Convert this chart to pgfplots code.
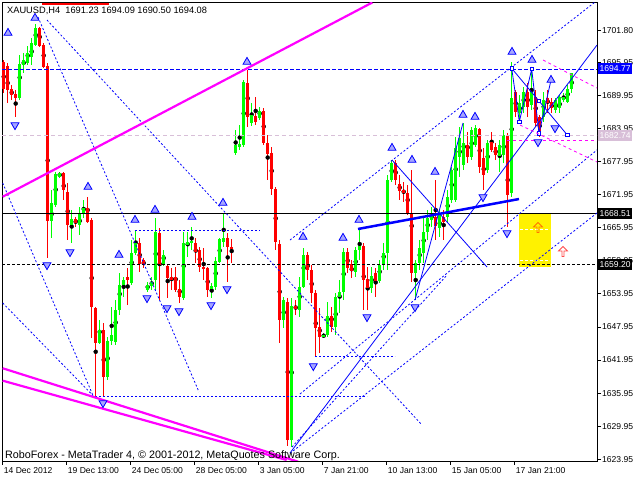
\documentclass[border=0pt]{standalone}
\usepackage{pgfplots}
\pgfplotsset{compat=1.18}
\usepackage{pgfplotstable}
\usepackage{fontspec}
\setmainfont{Liberation Sans}
\usetikzlibrary{shapes.arrows}
\definecolor{upc}{RGB}{0,255,0}
\definecolor{dnc}{RGB}{255,0,0}
\definecolor{mtblue}{RGB}{0,0,255}
\definecolor{thist}{RGB}{216,191,216}
\definecolor{mag}{RGB}{255,0,255}
\newcommand\mtf{\fontsize{8.6}{10}\selectfont}

\pgfplotstableread{
i o h l c
5 1689.50 1697.31 1689.14 1695.68
6 1695.49 1697.73 1694.04 1696.40
7 1695.80 1698.94 1695.49 1697.73
8 1697.00 1700.39 1695.49 1699.49
9 1699.12 1702.93 1698.94 1702.21
13 1667.24 1672.81 1664.10 1670.50
14 1670.08 1676.07 1669.72 1675.71
15 1675.22 1676.13 1674.98 1675.84
18 1666.45 1669.18 1663.19 1667.54
20 1666.45 1669.78 1664.64 1668.69
21 1668.63 1670.99 1667.73 1669.54
25 1645.04 1649.21 1644.90 1647.40
27 1638.92 1646.18 1638.32 1645.40
28 1645.40 1651.62 1644.68 1646.49
29 1645.27 1652.84 1644.68 1651.03
30 1651.03 1657.74 1650.12 1655.56
31 1655.56 1657.07 1653.44 1656.47
33 1655.93 1663.73 1655.56 1661.37
34 1661.37 1665.55 1661.01 1663.19
37 1654.66 1656.11 1654.29 1655.56
38 1655.38 1657.07 1654.66 1656.16
39 1656.47 1667.73 1654.66 1665.24
41 1659.20 1661.92 1659.01 1661.01
46 1653.21 1665.24 1652.84 1663.19
47 1662.82 1665.24 1660.70 1663.43
48 1663.13 1666.15 1661.92 1663.55
53 1654.84 1655.93 1653.21 1655.38
54 1655.20 1660.70 1654.66 1659.98
55 1659.79 1664.10 1659.56 1663.91
56 1663.43 1668.63 1662.52 1664.10
59 1679.47 1683.70 1679.16 1680.97
60 1680.61 1684.60 1680.07 1681.16
61 1680.97 1692.77 1680.67 1692.46
63 1685.02 1688.60 1684.42 1686.42
65 1685.82 1687.93 1685.51 1687.20
71 1649.21 1653.44 1647.76 1652.84
73 1627.43 1653.21 1626.16 1651.75
75 1651.03 1657.07 1649.81 1655.26
76 1655.26 1662.28 1655.02 1661.01
81 1646.07 1646.85 1645.89 1646.49
82 1646.49 1652.53 1646.18 1649.94
84 1647.99 1654.06 1646.49 1653.44
85 1653.44 1656.47 1650.48 1654.35
86 1654.35 1662.28 1652.84 1661.61
89 1657.98 1662.52 1657.07 1661.92
90 1661.92 1665.91 1660.10 1662.64
93 1654.97 1658.89 1654.06 1657.20
95 1656.35 1660.10 1655.87 1659.20
96 1659.20 1663.13 1658.29 1661.37
97 1661.37 1675.53 1658.29 1674.62
98 1674.62 1678.25 1674.31 1677.65
104 1657.69 1660.10 1652.84 1659.56
105 1659.56 1663.73 1658.29 1662.28
106 1661.32 1667.73 1659.56 1665.24
107 1665.24 1669.18 1663.73 1667.73
108 1667.36 1669.78 1666.15 1668.27
110 1665.91 1669.18 1664.33 1668.27
112 1667.96 1672.81 1667.05 1671.59
113 1670.99 1677.04 1670.45 1676.44
114 1670.99 1682.48 1670.68 1680.38
115 1678.85 1684.30 1675.22 1682.19
116 1677.34 1684.97 1676.44 1681.28
118 1678.85 1684.30 1678.25 1683.70
119 1680.97 1684.60 1680.67 1684.00
122 1676.44 1681.88 1675.84 1681.28
125 1678.98 1681.88 1676.13 1680.97
126 1679.16 1683.70 1677.65 1682.79
128 1672.21 1696.09 1671.59 1689.45
130 1686.73 1690.05 1685.20 1688.54
131 1687.93 1691.55 1686.73 1690.65
133 1688.23 1694.59 1687.33 1690.65
136 1686.11 1690.65 1685.20 1689.14
139 1687.33 1689.45 1686.73 1689.14
140 1687.63 1690.05 1686.73 1689.74
141 1689.14 1690.36 1688.83 1689.74
142 1688.83 1691.86 1688.54 1691.23
143 1691.23 1694.09 1690.50 1694.08
}\candUp

\pgfplotstableread{
i o h l c
1 1696.09 1696.40 1690.36 1691.08
2 1695.31 1695.86 1688.60 1690.96
3 1691.14 1691.86 1689.14 1690.05
4 1690.23 1690.96 1686.06 1689.56
10 1702.21 1702.45 1698.76 1698.94
11 1699.12 1699.49 1694.95 1695.18
12 1695.31 1695.86 1660.47 1667.24
16 1675.84 1676.13 1670.99 1672.81
17 1672.50 1674.13 1663.73 1666.45
19 1667.54 1667.96 1666.15 1666.82
22 1669.54 1671.54 1666.82 1667.05
23 1667.36 1667.73 1645.94 1651.57
24 1651.39 1651.62 1635.29 1645.04
26 1647.40 1648.67 1635.29 1638.92
32 1657.07 1658.65 1651.94 1656.47
35 1663.19 1664.10 1657.92 1659.38
36 1660.10 1660.47 1658.65 1659.20
40 1665.06 1665.91 1652.84 1659.20
42 1659.01 1659.38 1653.21 1656.84
43 1657.07 1658.65 1654.66 1656.47
44 1657.02 1658.89 1654.35 1654.66
45 1654.84 1656.47 1652.30 1653.44
49 1663.24 1664.10 1659.56 1661.61
50 1661.92 1662.52 1657.98 1658.89
51 1658.89 1662.28 1656.47 1658.47
52 1658.65 1658.89 1653.44 1654.66
57 1664.10 1665.00 1656.16 1662.46
58 1662.52 1663.91 1659.56 1662.15
62 1692.17 1694.59 1684.30 1686.11
64 1686.24 1689.74 1684.60 1685.20
66 1687.20 1687.69 1680.97 1681.28
67 1681.28 1682.79 1674.62 1679.34
68 1679.47 1680.67 1671.90 1672.93
69 1672.93 1673.41 1661.92 1663.43
70 1663.01 1663.73 1644.98 1649.21
72 1652.53 1653.21 1626.35 1627.43
74 1651.75 1652.84 1650.12 1651.16
77 1661.01 1661.61 1656.47 1658.29
78 1658.29 1659.20 1652.30 1654.06
79 1654.06 1654.66 1642.55 1647.71
80 1647.94 1651.39 1643.22 1646.13
83 1649.94 1651.62 1647.09 1647.99
87 1661.61 1662.28 1657.69 1658.60
88 1659.38 1660.10 1656.78 1658.16
91 1662.64 1663.19 1651.03 1656.47
92 1656.65 1658.89 1651.03 1654.97
94 1657.74 1658.65 1653.44 1656.35
99 1677.65 1678.25 1673.71 1674.62
100 1673.89 1675.53 1670.99 1672.68
101 1672.81 1674.31 1670.68 1672.21
102 1672.32 1673.71 1668.27 1668.58
103 1668.58 1676.44 1656.16 1657.69
109 1667.96 1674.62 1663.73 1666.27
111 1667.96 1669.18 1663.73 1667.05
117 1680.97 1683.39 1677.71 1678.85
120 1683.82 1684.06 1675.89 1677.04
121 1678.56 1680.43 1672.81 1675.53
123 1681.57 1683.39 1679.76 1680.07
124 1680.56 1681.28 1678.25 1679.16
127 1682.79 1683.10 1666.15 1671.90
129 1690.65 1690.96 1686.11 1687.02
132 1690.65 1692.17 1686.11 1687.93
134 1689.74 1690.96 1684.30 1684.91
135 1686.11 1686.42 1682.48 1683.39
137 1689.45 1690.96 1686.73 1688.54
138 1688.83 1689.45 1686.73 1687.63
}\candDn

\begin{document}
\begin{tikzpicture}
\useasboundingbox (0,0) rectangle (640bp,480bp);
\begin{axis}[
  at={(2bp,19bp)}, anchor=south west,
  scale only axis, width=595bp, height=458.5bp,
  xmin=0.575, xmax=149.325, ymin=1623.62, ymax=1706.84,
  axis line style={black, line width=0.9bp},
  xtick={0.75,16.75,32.75,48.75,64.75,80.75,96.75,112.75,128.75},
  xticklabels={14 Dec 2012,19 Dec 13:00,24 Dec 05:00,28 Dec 05:00,3 Jan 05:00,7 Jan 21:00,10 Jan 13:00,15 Jan 05:00,17 Jan 21:00},
  ytick={1623.95,1629.95,1635.95,1641.95,1647.95,1653.95,1659.95,1665.95,1671.95,1677.95,1683.95,1689.95,1695.95,1701.80},
  yticklabels={1623.95,1629.95,1635.95,1641.95,1647.95,1653.95,1659.95,1665.95,1671.95,1677.95,1683.95,1689.95,1695.95,1701.80},
  xtick pos=left, ytick pos=right, yticklabel pos=right,
  tick align=outside, major tick length=4bp,
  tick style={black, line width=0.9bp},
  xticklabel style={anchor=north west, font=\mtf, inner sep=0pt, xshift=1bp, yshift=-2bp},
  yticklabel style={anchor=west, font=\mtf, inner sep=0pt, xshift=1bp},
  clip mode=individual,
]
% yellow zone
\addplot[draw=none, fill=yellow] coordinates {(129.825,1668.45) (137.825,1668.45) (137.825,1658.83) (129.825,1658.83)} -- cycle;
\addplot[white, dash pattern=on 3bp off 2bp, line width=0.8bp] coordinates {(130.075,1665.73) (137.575,1665.73)};
\addplot[white, dash pattern=on 3bp off 2bp, line width=0.8bp] coordinates {(130.075,1659.98) (137.575,1659.98)};

% candles: wicks then bodies
\addplot[only marks, mark=none, error bars/.cd, y dir=both, y explicit, error mark=none,
  error bar style={line width=1bp, draw=upc}]
  table[x=i, y expr={(\thisrow{h}+\thisrow{l})/2}, y error expr={(\thisrow{h}-\thisrow{l})/2}] {\candUp};
\addplot[only marks, mark=-, mark size=1.5bp, mark options={draw=upc, line width=1bp},
  error bars/.cd, y dir=both, y explicit, error mark=none,
  error bar style={line width=3bp, draw=upc}]
  table[x=i, y expr={(\thisrow{o}+\thisrow{c})/2}, y error expr={(\thisrow{c}-\thisrow{o})/2}] {\candUp};
\addplot[only marks, mark=none, error bars/.cd, y dir=both, y explicit, error mark=none,
  error bar style={line width=1bp, draw=dnc}]
  table[x=i, y expr={(\thisrow{h}+\thisrow{l})/2}, y error expr={(\thisrow{h}-\thisrow{l})/2}] {\candDn};
\addplot[only marks, mark=-, mark size=1.5bp, mark options={draw=dnc, line width=1bp},
  error bars/.cd, y dir=both, y explicit, error mark=none,
  error bar style={line width=3bp, draw=dnc}]
  table[x=i, y expr={(\thisrow{o}+\thisrow{c})/2}, y error expr={(\thisrow{o}-\thisrow{c})/2}] {\candDn};

% horizontal levels
\addplot[mtblue, dash pattern=on 4bp off 2bp, line width=0.8bp] coordinates {(0.575,1694.77) (149.325,1694.77)};
\addplot[thist, dash pattern=on 4bp off 3bp, line width=0.8bp] coordinates {(0.575,1682.74) (149.325,1682.74)};
\addplot[black, line width=1bp] coordinates {(0.575,1668.51) (149.325,1668.51)};
\addplot[black, dash pattern=on 3bp off 2bp, line width=1bp] coordinates {(0.575,1659.20) (149.325,1659.20)};

% blue dotted analysis lines
\pgfplotsset{bd/.style={mtblue, dash pattern=on 2bp off 2bp, line width=0.8bp}}
\addplot[bd] coordinates {(9.575,1704.20) (49.825,1636.15)};
\addplot[bd] coordinates {(11.825,1703.66) (105.575,1630.16)};
\addplot[bd] coordinates {(0.75,1674.08) (23.325,1635.5)};
\addplot[bd] coordinates {(0.75,1652.30) (23.325,1635.5)};
\addplot[bd] coordinates {(23.825,1635.42) (91.825,1635.42)};
\addplot[bd] coordinates {(33.825,1665.55) (65.075,1665.55)};
\addplot[bd] coordinates {(78.825,1642.68) (98.825,1642.68)};
\addplot[bd] coordinates {(72.575,1663.73) (149.325,1707.20)};
\addplot[bd] coordinates {(75.075,1635.78) (149.325,1680.07)};
\addplot[bd] coordinates {(72.575,1625.00) (149.325,1668.63)};
\addplot[bd] coordinates {(73.075,1626.16) (111.825,1657.38)};

% thin solid blue lines
\pgfplotsset{bs/.style={mtblue, line width=0.8bp}}
\addplot[bs] coordinates {(72.575,1625.07) (149.325,1699.12)};
\addplot[bs] coordinates {(103.825,1652.84) (115.825,1684.97)};
\addplot[bs] coordinates {(98.075,1678.25) (121.825,1658.83)};
\addplot[bs] coordinates {(128.0,1694.89) (129.9,1685.20) (133.0,1694.77) (134.83,1683.10) (137.83,1692.77)};
\addplot[bs] coordinates {(128.0,1694.89) (141.9,1682.79)};
\addplot[only marks, mark=square*, mark size=1.7bp, mark options={draw=mtblue, fill=white, line width=0.8bp}]
  coordinates {(128.0,1694.89) (129.9,1685.20) (133.0,1694.77) (134.83,1683.10) (137.83,1692.77) (134.83,1688.96) (141.9,1682.79)};

% thick blue line
\addplot[mtblue, line width=2.5bp] coordinates {(89.575,1665.73) (129.825,1671.17)};

% magenta lines
\addplot[mag, line width=2.2bp] coordinates {(0.75,1671.59) (93.15,1706.84)};
\addplot[mag, line width=2.2bp] coordinates {(0.75,1640.45) (74.58,1623.50)};
\addplot[mag, line width=2.2bp] coordinates {(0.75,1638.20) (71.75,1623.80)};
\addplot[mag, dash pattern=on 3bp off 3bp, line width=0.8bp] coordinates {(135.825,1696.40) (149.325,1691.32)};
\addplot[mag, dash pattern=on 3bp off 3bp, line width=0.8bp] coordinates {(130.075,1684.60) (149.325,1677.89)};
\addplot[mag, dash pattern=on 3bp off 3bp, line width=0.8bp] coordinates {(126.825,1681.88) (149.325,1681.88)};
\addplot[dnc, line width=2bp] coordinates {(10.575,1706.5) (27.325,1706.5)};

% fractals
\addplot[only marks, mark=triangle*, mark size=4.6bp, mark options={draw=mtblue, fill=mtblue!35, line width=0.8bp}]
  coordinates {(2.075,1701.30) (8.825,1704.02) (22.075,1673.35) (29.825,1661.01) (33.825,1667.36) (38.825,1669.18)
  (48.075,1667.91) (55.825,1670.45) (61.825,1696.04) (75.825,1664.28) (85.825,1664.10) (89.825,1667.36)
  (98.075,1680.43) (103.075,1678.25) (108.825,1676.07) (115.825,1686.42) (118.825,1686.06)
  (128.075,1697.85) (133.075,1696.40) (137.825,1692.77)};
\addplot[only marks, mark=triangle*, mark size=4.6bp, mark options={draw=mtblue, fill=mtblue!35, line width=0.8bp, rotate=180}]
  coordinates {(3.825,1684.60) (11.825,1659.20) (17.575,1661.55) (25.825,1634.15) (36.825,1653.21)
  (41.825,1651.39) (44.825,1650.85) (52.825,1651.94) (56.825,1654.84) (78.4,1640.87) (91.825,1649.76)
  (103.825,1651.57) (120.825,1671.54) (126.825,1665.00) (134.575,1681.52) (138.825,1684.06)};

% arrows in the zone
\node[single arrow, draw=orange!90!red, fill=none, shape border rotate=90, minimum height=10bp, minimum width=9bp, single arrow head extend=1.5bp, inner sep=0pt, line width=0.8bp] at (axis cs:134.575,1665.91) {};
\node[single arrow, draw=red!70, fill=white, shape border rotate=90, minimum height=10bp, minimum width=9bp, single arrow head extend=1.5bp, inner sep=0pt, line width=0.8bp] at (axis cs:140.825,1661.55) {};

% price tags
\node[anchor=west, fill=mtblue, text=white, font=\mtf, inner xsep=1.5bp, inner ysep=0pt, minimum height=11bp, xshift=1bp] at (axis cs:149.325,1694.77) {1694.77};
\node[anchor=west, fill=thist, text=white, font=\mtf, inner xsep=1.5bp, inner ysep=0pt, minimum height=11bp, xshift=1bp] at (axis cs:149.325,1682.74) {1682.74};
\node[anchor=west, fill=black, text=white, font=\mtf, inner xsep=1.5bp, inner ysep=0pt, minimum height=11bp, xshift=1bp] at (axis cs:149.325,1668.51) {1668.51};
\node[anchor=west, fill=black, text=white, font=\mtf, inner xsep=1.5bp, inner ysep=0pt, minimum height=11bp, xshift=1bp] at (axis cs:149.325,1659.20) {1659.20};
\end{axis}
\node[anchor=base west, font=\fontsize{9.3}{11}\selectfont, inner sep=0pt] at (7bp,466bp) {XAUUSD,H4\ \ 1691.23 1694.09 1690.50 1694.08};
\node[anchor=base west, font=\fontsize{10.8}{12}\selectfont, inner sep=0pt] at (5bp,21.7bp) {RoboForex - MetaTrader 4, © 2001-2012, MetaQuotes Software Corp.};
\end{tikzpicture}
\end{document}
